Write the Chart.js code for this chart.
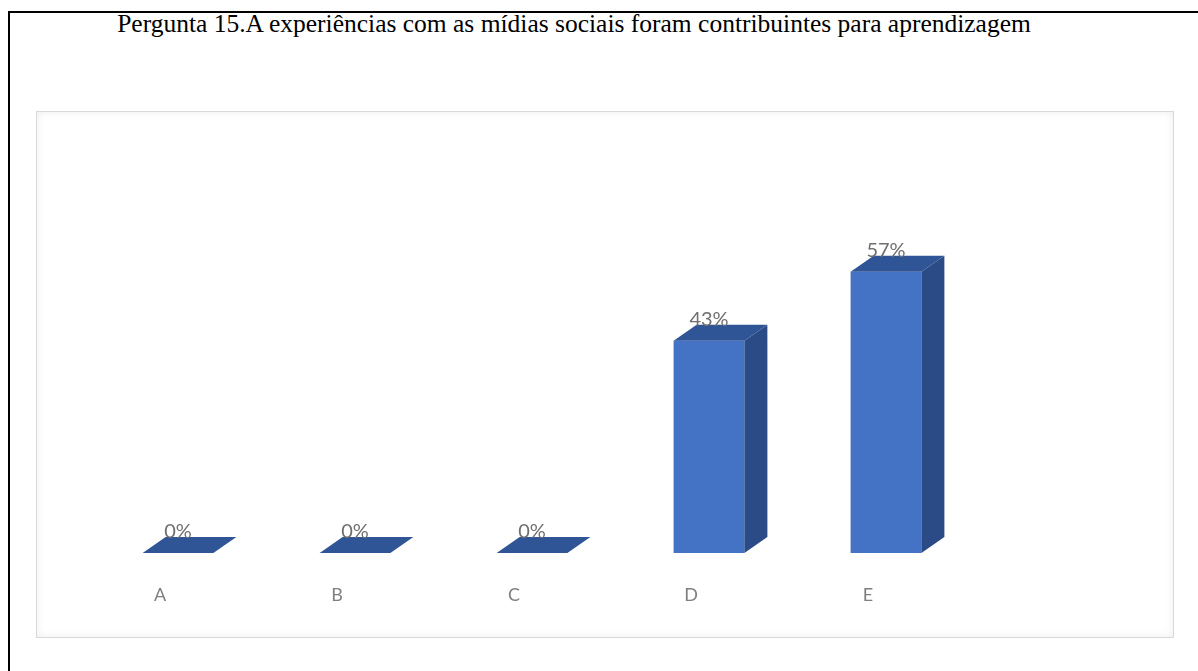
<!DOCTYPE html>
<html>
<head>
<meta charset="utf-8">
<script src="https://cdn.jsdelivr.net/npm/chart.js@4"></script>
<style>
  body { margin: 0; background: #fff; }
  .page { position: relative; width: 1198px; height: 671px; overflow: hidden; }
  .frame { position: absolute; left: 8px; top: 11px; width: 1300px; height: 800px; border-left: 2px solid #000; border-top: 2px solid #000; }
  .title { position: absolute; left: 0; width: 1148px; top: 9px; text-align: center; font-family: "Liberation Serif", serif; font-size: 25.5px; color: #000; white-space: nowrap; }
  .box { position: absolute; left: 36px; top: 111px; width: 1136px; height: 525px; border: 1px solid #d9d9d9; box-shadow: inset 0 0 9px rgba(0,0,0,0.07); }
  canvas { position: absolute; left: 0; top: 0; }
</style>
</head>
<body>
<div class="page">
  <div class="frame"></div>
  <div class="title">Pergunta 15.A experiências com as mídias sociais foram contribuintes para aprendizagem</div>
  <div class="box"></div>
  <canvas id="chart" width="1198" height="671"></canvas>
</div>
<script>
const categories = ['A', 'B', 'C', 'D', 'E'];
const values = [0, 0, 0, 43, 57];
const yMax = 60;

// fake 3D look: top + side faces drawn on the front bar
const depthX = 23, depthY = -16;
const bar3d = {
  id: 'bar3d',
  afterDatasetsDraw(chart) {
    const ctx = chart.ctx;
    const meta = chart.getDatasetMeta(0);
    meta.data.forEach((bar, i) => {
      const { x, y, base, width } = bar.getProps(['x', 'y', 'base', 'width'], true);
      const l = x - width / 2, r = x + width / 2;
      ctx.save();
      if (base - y > 1) {
        ctx.fillStyle = '#2B4B87';
        ctx.beginPath();
        ctx.moveTo(r, y); ctx.lineTo(r + depthX, y + depthY);
        ctx.lineTo(r + depthX, base + depthY); ctx.lineTo(r, base);
        ctx.closePath(); ctx.fill();
      }
      ctx.fillStyle = '#2F5597';
      ctx.beginPath();
      ctx.moveTo(l, y); ctx.lineTo(l + depthX, y + depthY);
      ctx.lineTo(r + depthX, y + depthY); ctx.lineTo(r, y);
      ctx.closePath(); ctx.fill();

      ctx.fillStyle = '#6f6f6f';
      ctx.font = '20px Lato, sans-serif';
      ctx.textAlign = 'center';
      ctx.textBaseline = 'alphabetic';
      ctx.fillText(values[i] + '%', x, y + depthY + 1);
      ctx.restore();
    });
  }
};

new Chart(document.getElementById('chart').getContext('2d'), {
  type: 'bar',
  data: {
    labels: categories,
    datasets: [{
      data: values,
      backgroundColor: '#4472C4',
      borderWidth: 0,
      categoryPercentage: 1,
      barPercentage: 0.4,
    }],
  },
  options: {
    responsive: false,
    animation: false,
    layout: { padding: { left: 89.5, right: 223.5, top: 257, bottom: 58 } },
    plugins: { legend: { display: false }, tooltip: { enabled: false } },
    scales: {
      x: {
        grid: { display: false, drawTicks: false },
        border: { display: false },
        ticks: { color: '#7f7f7f', font: { family: 'Lato', size: 18 }, padding: 31, labelOffset: -18 },
        afterFit: s => { s.height = 60; },
      },
      y: { display: false, min: 0, max: yMax },
    },
  },
  plugins: [bar3d],
});
</script>
</body>
</html>
